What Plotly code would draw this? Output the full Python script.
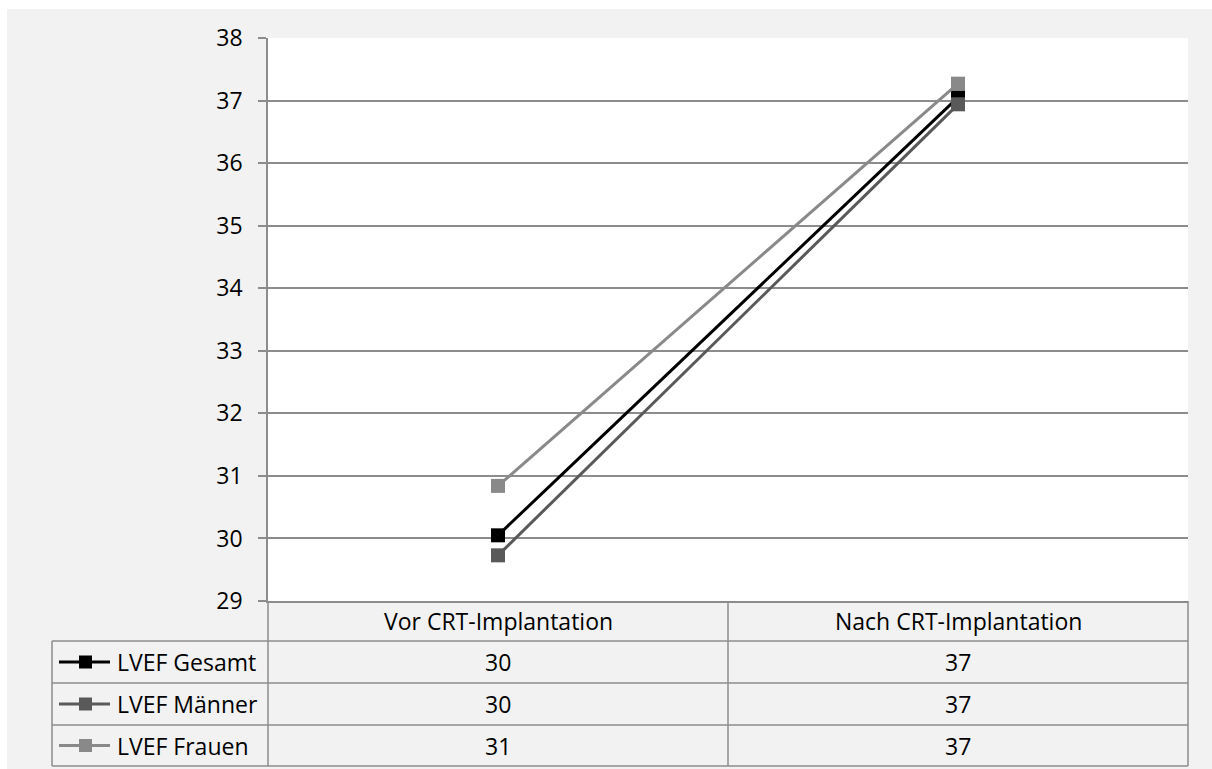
import plotly.graph_objects as go

# Data
categories = ["Vor CRT-Implantation", "Nach CRT-Implantation"]
series_names = ["LVEF Gesamt", "LVEF Männer", "LVEF Frauen"]
lvef_gesamt = [30.05, 37.05]
lvef_maenner = [29.73, 36.94]
lvef_frauen = [30.84, 37.27]
y_ticks = [29, 30, 31, 32, 33, 34, 35, 36, 37, 38]

series_values = [lvef_gesamt, lvef_maenner, lvef_frauen]
series_colors = ["#000000", "#595959", "#898989"]

W, H = 1212, 769
PL, PR, PT, PB = 268, 1188, 38, 601  # plot area in pixels
GRID = "#8c8c8c"
FONT = "Open Sans, Lato, Liberation Sans, sans-serif"
FS = 23


def px(x):
    return (x - PL) / (PR - PL)


def py(y):
    return (PB - y) / (PB - PT)


fig = go.Figure()
for name, vals, col in zip(series_names, series_values, series_colors):
    fig.add_trace(go.Scatter(
        x=categories, y=vals, name=name, mode="lines+markers",
        line=dict(color=col, width=3),
        marker=dict(symbol="square", size=14, color=col),
        showlegend=False,
    ))

shapes = []
annotations = []

# white outer strips
shapes.append(dict(type="rect", xref="paper", yref="paper", x0=px(0), x1=px(W), y0=py(0), y1=py(9),
                   fillcolor="white", line=dict(width=0), layer="below"))
shapes.append(dict(type="rect", xref="paper", yref="paper", x0=px(0), x1=px(7), y0=py(0), y1=py(H),
                   fillcolor="white", line=dict(width=0), layer="below"))

# data table geometry
col_x = [52, 268, 728, 1188]
row_y = [601, 641, 683, 725, 766]


def hline(x0, x1, y):
    shapes.append(dict(type="line", xref="paper", yref="paper", x0=px(x0), x1=px(x1), y0=py(y), y1=py(y),
                       line=dict(color=GRID, width=1.5)))


def vline(x, y0, y1):
    shapes.append(dict(type="line", xref="paper", yref="paper", x0=px(x), x1=px(x), y0=py(y0), y1=py(y1),
                       line=dict(color=GRID, width=1.5)))


for y in row_y[1:]:
    hline(col_x[0], col_x[-1], y)
for x in col_x[1:]:
    vline(x, row_y[0], row_y[-1])
vline(col_x[0], row_y[1], row_y[-1])

# header row
for i, cat in enumerate(categories):
    cx = (col_x[i + 1] + col_x[i + 2]) / 2
    cy = (row_y[0] + row_y[1]) / 2
    annotations.append(dict(x=px(cx), y=py(cy), xref="paper", yref="paper", text=cat, showarrow=False,
                            font=dict(size=FS, color="#000000", family=FONT), xanchor="center", yanchor="middle"))

# series rows: legend key, name and rounded values
for r, (name, vals, col) in enumerate(zip(series_names, series_values, series_colors)):
    cy = (row_y[r + 1] + row_y[r + 2]) / 2
    shapes.append(dict(type="line", xref="paper", yref="paper", x0=px(59), x1=px(110), y0=py(cy), y1=py(cy),
                       line=dict(color=col, width=3)))
    shapes.append(dict(type="rect", xref="paper", yref="paper", x0=px(79), x1=px(92), y0=py(cy - 6.5), y1=py(cy + 6.5),
                       fillcolor=col, line=dict(width=0)))
    annotations.append(dict(x=px(115), y=py(cy), xref="paper", yref="paper", text=name, showarrow=False,
                            font=dict(size=FS, color="#000000", family=FONT), xanchor="left", yanchor="middle"))
    for i, v in enumerate(vals):
        cx = (col_x[i + 1] + col_x[i + 2]) / 2
        annotations.append(dict(x=px(cx), y=py(cy), xref="paper", yref="paper", text=f"{round(v)}", showarrow=False,
                                font=dict(size=FS, color="#000000", family=FONT), xanchor="center", yanchor="middle"))

fig.update_layout(
    width=W, height=H,
    margin=dict(l=PL, r=W - PR, t=PT, b=H - PB, pad=0),
    paper_bgcolor="#f2f2f2", plot_bgcolor="white",
    font=dict(family=FONT, size=FS, color="#000000"),
    shapes=shapes, annotations=annotations,
    xaxis=dict(type="category", range=[-0.5, 1.5], showticklabels=False, showgrid=False,
               showline=True, linecolor=GRID, linewidth=1.5, ticks="", zeroline=False, fixedrange=True),
    yaxis=dict(range=[29, 38], tickvals=y_ticks, showgrid=True, gridcolor=GRID, gridwidth=1.5,
               showline=True, linecolor=GRID, linewidth=1.5, ticks="outside", ticklen=8, tickcolor=GRID,
               tickwidth=1.5, ticklabelstandoff=11, tickfont=dict(size=FS, color="#000000", family=FONT),
               zeroline=False, fixedrange=True),
)

fig.write_html("out.html")
